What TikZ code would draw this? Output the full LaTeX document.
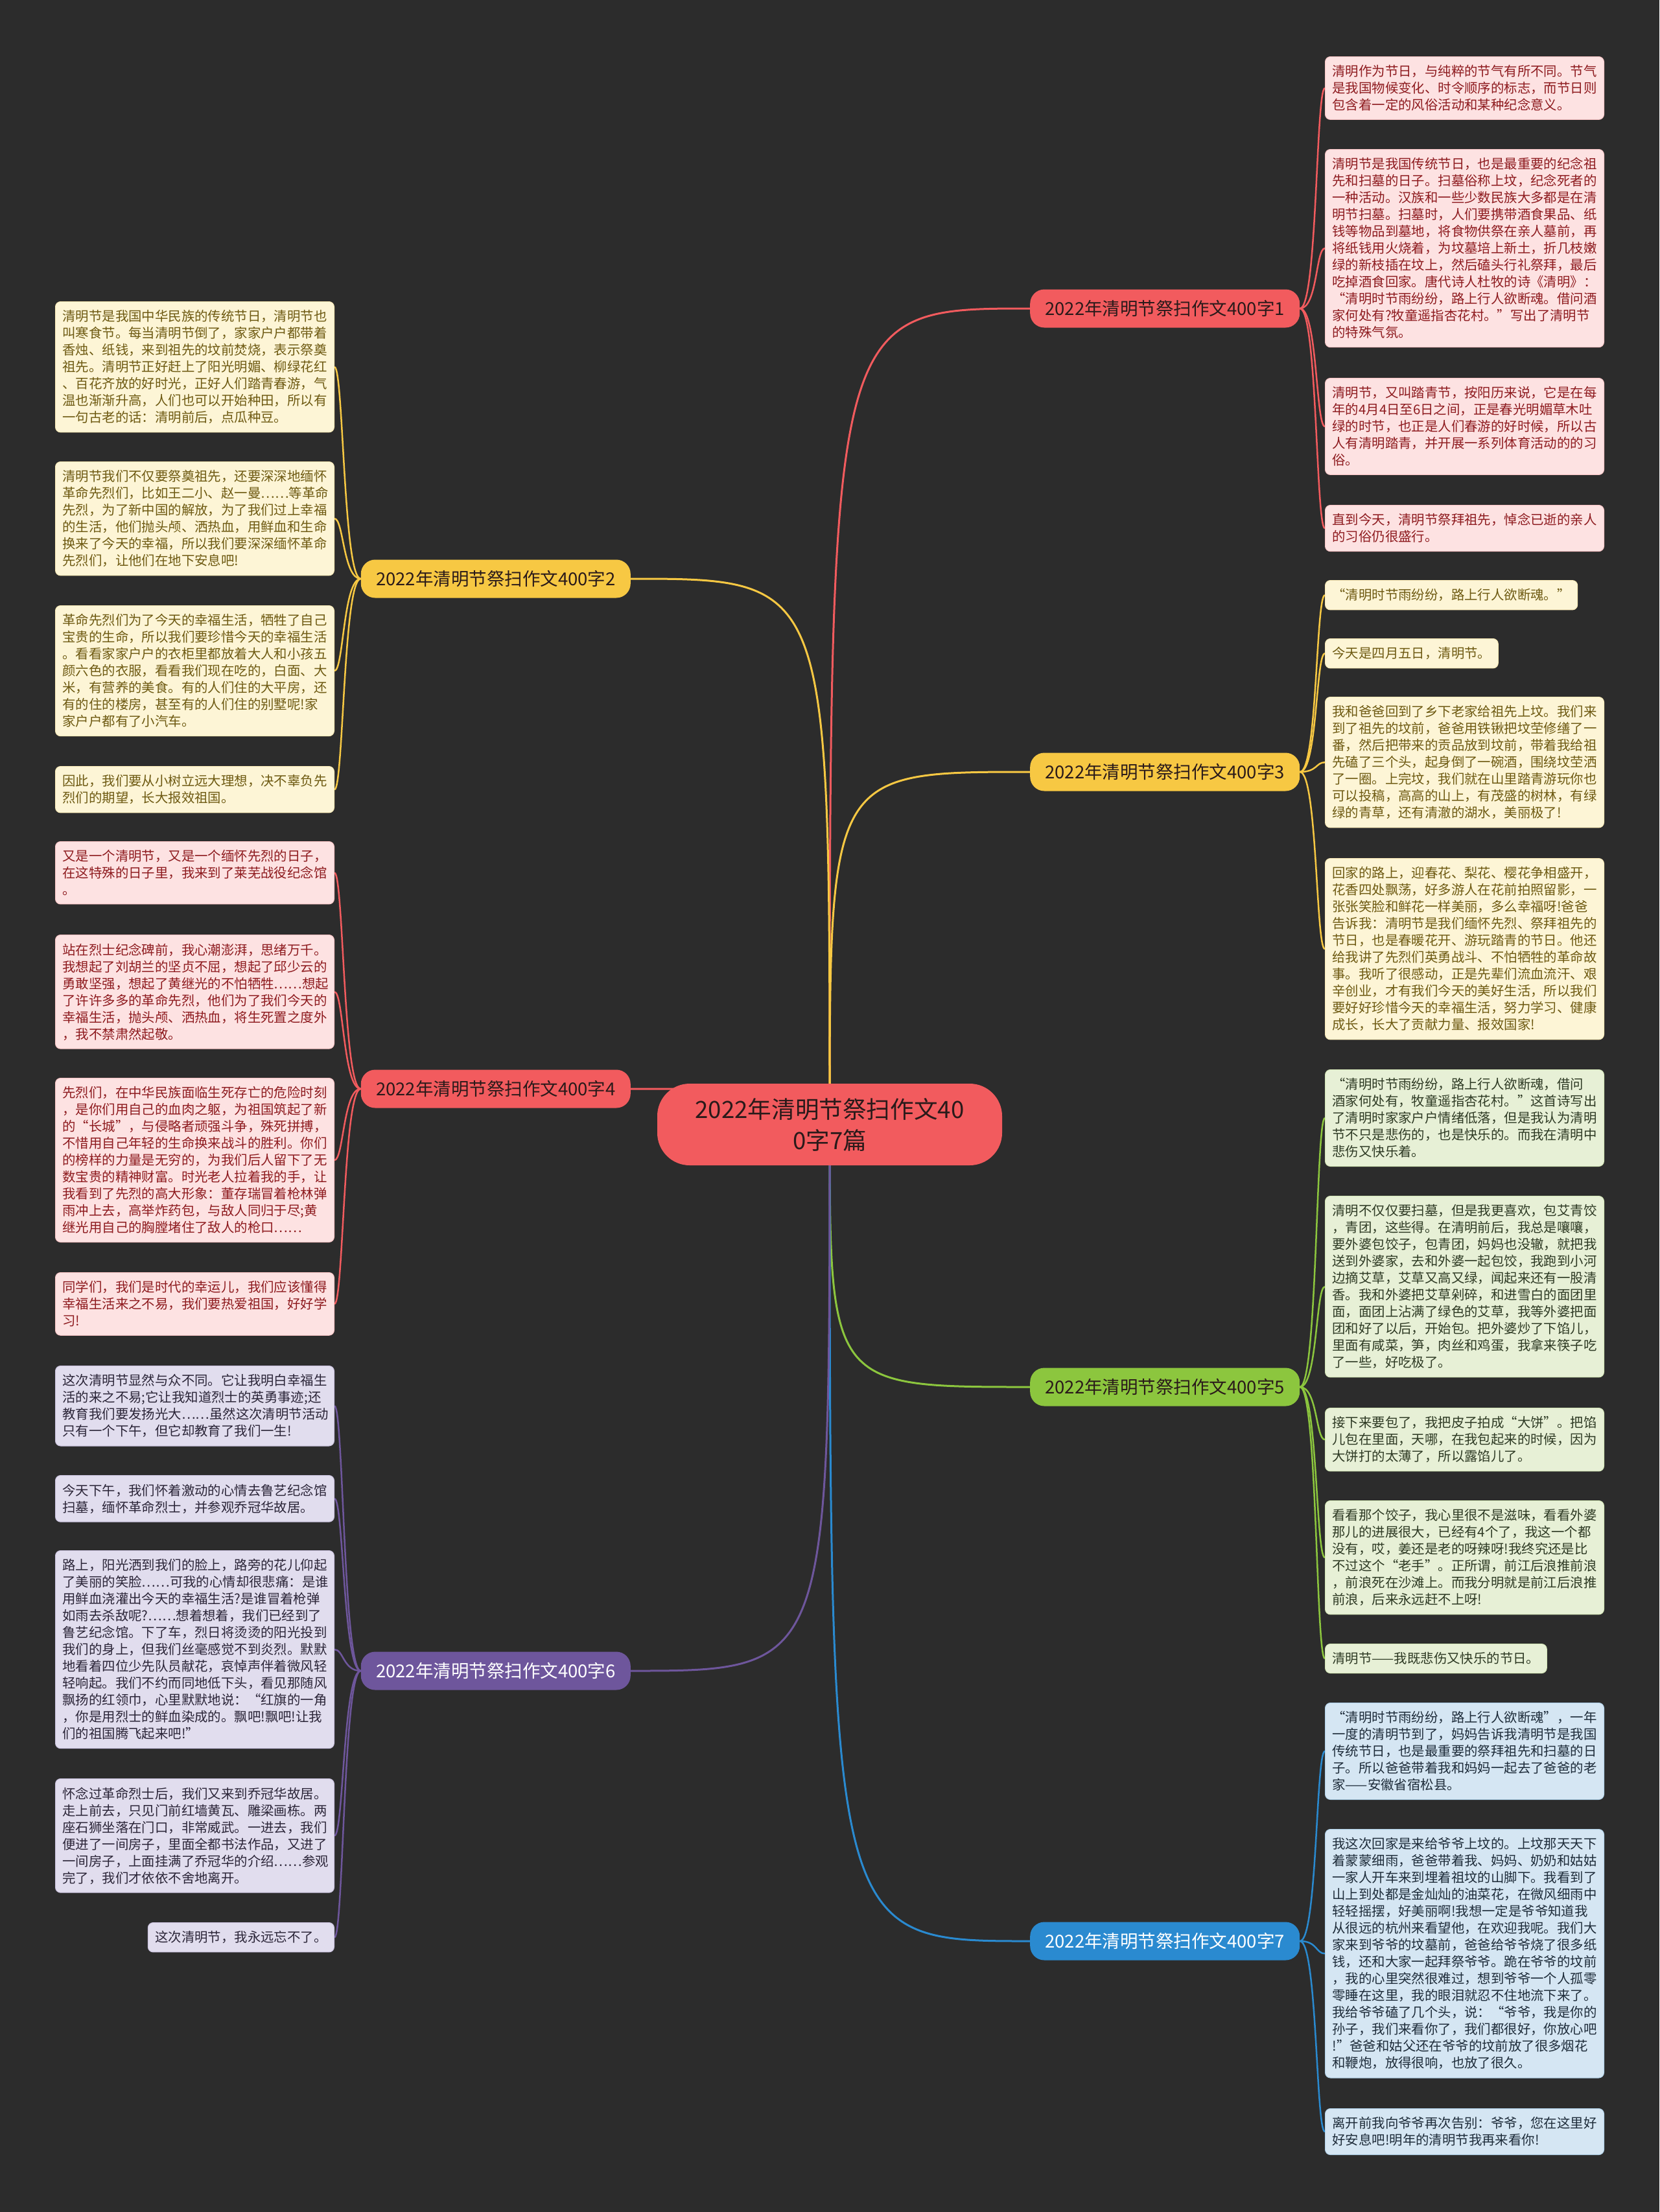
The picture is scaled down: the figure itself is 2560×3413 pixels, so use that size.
\documentclass[tikz,border=0pt]{standalone}
\usepackage{fontspec}
\setmainfont{Noto Sans CJK SC}
\pgfdeclarelayer{bglayer}
\pgfdeclarelayer{linelayer}
\pgfsetlayers{bglayer,linelayer,main}
\definecolor{bgc}{HTML}{2C2C2C}
\definecolor{redM}{HTML}{F25B5E}
\definecolor{redL}{HTML}{FDE2E2}
\definecolor{redT}{HTML}{8E1B1F}
\definecolor{yelM}{HTML}{F7C843}
\definecolor{yelL}{HTML}{FDF5D6}
\definecolor{yelT}{HTML}{6E5A12}
\definecolor{grnM}{HTML}{8CC63E}
\definecolor{grnL}{HTML}{E7F0D6}
\definecolor{grnT}{HTML}{2E3A24}
\definecolor{bluM}{HTML}{2A8AD0}
\definecolor{bluL}{HTML}{D5E6F3}
\definecolor{bluT}{HTML}{1E2C3A}
\definecolor{purM}{HTML}{6E569C}
\definecolor{purL}{HTML}{E1DDEE}
\definecolor{purT}{HTML}{2B2538}
\definecolor{darkT}{HTML}{2A1A1A}
\tikzset{
  leafbox/.style={inner xsep=11pt, inner ysep=13pt, rounded corners=8pt, align=left,
    font=\fontsize{20.4}{26}\selectfont, line width=1pt},
  wide/.style={text width=408pt},
  rleaf/.style={leafbox, anchor=north west},
  lleaf/.style={leafbox, anchor=north east},
  redleaf/.style={fill=redL, draw=redL!80!redM, text=redT},
  yelleaf/.style={fill=yelL, draw=yelL!80!yelM, text=yelT},
  grnleaf/.style={fill=grnL, draw=grnL!80!grnM, text=grnT},
  bluleaf/.style={fill=bluL, draw=bluL!80!bluM, text=bluT},
  purleaf/.style={fill=purL, draw=purL!80!purM, text=purT},
  branch/.style={minimum width=416pt, minimum height=59pt, rounded corners=22pt,
    inner sep=0pt, font=\fontsize{27.5}{33}\selectfont},
  rbranch/.style={branch, anchor=west},
  lbranch/.style={branch, anchor=east},
  trunk/.style={line width=3pt},
  twig/.style={line width=2.5pt},
}
\begin{document}
\begin{tikzpicture}[x=1pt, y=-1pt]
\useasboundingbox (0,0) rectangle (2560,3413);
\begin{pgfonlayer}{bglayer}
\fill[bgc] (0,0) rectangle (2560,3413);
\end{pgfonlayer}

% centre
\node[fill=redM, text=darkT, minimum width=532pt, minimum height=126pt, rounded corners=50pt,
  align=center, font=\fontsize{36.6}{48}\selectfont] (ctr) at (1280,1735)
  {2022年清明节祭扫作文40\\0字7篇};

% branches
\node[rbranch, fill=redM, text=darkT] (r1) at (1589,476) {2022年清明节祭扫作文400字1};
\node[rbranch, fill=yelM, text=darkT] (r3) at (1589,1191) {2022年清明节祭扫作文400字3};
\node[rbranch, fill=grnM, text=darkT] (r5) at (1589,2140) {2022年清明节祭扫作文400字5};
\node[rbranch, fill=bluM, text=white] (r7) at (1589,2995) {2022年清明节祭扫作文400字7};
\node[lbranch, fill=yelM, text=darkT] (l2) at (973,893) {2022年清明节祭扫作文400字2};
\node[lbranch, fill=redM, text=darkT] (l4) at (973,1680) {2022年清明节祭扫作文400字4};
\node[lbranch, fill=purM, text=white] (l6) at (973,2578) {2022年清明节祭扫作文400字6};

% ---- branch 1 leaves
\node[rleaf, wide, redleaf] (r1a) at (2044,87) {清明作为节日，与纯粹的节气有所不同。节气\\是我国物候变化、时令顺序的标志，而节日则\\包含着一定的风俗活动和某种纪念意义。};
\node[rleaf, wide, redleaf] (r1b) at (2044,230) {清明节是我国传统节日，也是最重要的纪念祖\\先和扫墓的日子。扫墓俗称上坟，纪念死者的\\一种活动。汉族和一些少数民族大多都是在清\\明节扫墓。扫墓时，人们要携带酒食果品、纸\\钱等物品到墓地，将食物供祭在亲人墓前，再\\将纸钱用火烧着，为坟墓培上新土，折几枝嫩\\绿的新枝插在坟上，然后磕头行礼祭拜，最后\\吃掉酒食回家。唐代诗人杜牧的诗《清明》：\\“清明时节雨纷纷，路上行人欲断魂。借问酒\\家何处有?牧童遥指杏花村。”写出了清明节\\的特殊气氛。};
\node[rleaf, wide, redleaf] (r1c) at (2044,583) {清明节，又叫踏青节，按阳历来说，它是在每\\年的4月4日至6日之间，正是春光明媚草木吐\\绿的时节，也正是人们春游的好时候，所以古\\人有清明踏青，并开展一系列体育活动的的习\\俗。};
\node[rleaf, wide, redleaf] (r1d) at (2044,779) {直到今天，清明节祭拜祖先，悼念已逝的亲人\\的习俗仍很盛行。};

% ---- branch 3 leaves
\node[rleaf, yelleaf] (r3a) at (2044,895) {“清明时节雨纷纷，路上行人欲断魂。”};
\node[rleaf, yelleaf] (r3b) at (2044,985) {今天是四月五日，清明节。};
\node[rleaf, wide, yelleaf] (r3c) at (2044,1075) {我和爸爸回到了乡下老家给祖先上坟。我们来\\到了祖先的坟前，爸爸用铁锹把坟茔修缮了一\\番，然后把带来的贡品放到坟前，带着我给祖\\先磕了三个头，起身倒了一碗酒，围绕坟茔洒\\了一圈。上完坟，我们就在山里踏青游玩你也\\可以投稿，高高的山上，有茂盛的树林，有绿\\绿的青草，还有清澈的湖水，美丽极了!};
\node[rleaf, wide, yelleaf] (r3d) at (2044,1324) {回家的路上，迎春花、梨花、樱花争相盛开，\\花香四处飘荡，好多游人在花前拍照留影，一\\张张笑脸和鲜花一样美丽，多么幸福呀!爸爸\\告诉我：清明节是我们缅怀先烈、祭拜祖先的\\节日，也是春暖花开、游玩踏青的节日。他还\\给我讲了先烈们英勇战斗、不怕牺牲的革命故\\事。我听了很感动，正是先辈们流血流汗、艰\\辛创业，才有我们今天的美好生活，所以我们\\要好好珍惜今天的幸福生活，努力学习、健康\\成长，长大了贡献力量、报效国家!};

% ---- branch 5 leaves
\node[rleaf, wide, grnleaf] (r5a) at (2044,1650) {“清明时节雨纷纷，路上行人欲断魂，借问\\酒家何处有，牧童遥指杏花村。”这首诗写出\\了清明时家家户户情绪低落，但是我认为清明\\节不只是悲伤的，也是快乐的。而我在清明中\\悲伤又快乐着。};
\node[rleaf, wide, grnleaf] (r5b) at (2044,1845) {清明不仅仅要扫墓，但是我更喜欢，包艾青饺\\，青团，这些得。在清明前后，我总是嚷嚷，\\要外婆包饺子，包青团，妈妈也没辙，就把我\\送到外婆家，去和外婆一起包饺，我跑到小河\\边摘艾草，艾草又高又绿，闻起来还有一股清\\香。我和外婆把艾草剁碎，和进雪白的面团里\\面，面团上沾满了绿色的艾草，我等外婆把面\\团和好了以后，开始包。把外婆炒了下馅儿，\\里面有咸菜，笋，肉丝和鸡蛋，我拿来筷子吃\\了一些，好吃极了。};
\node[rleaf, wide, grnleaf] (r5c) at (2044,2172) {接下来要包了，我把皮子拍成“大饼”。把馅\\儿包在里面，天哪，在我包起来的时候，因为\\大饼打的太薄了，所以露馅儿了。};
\node[rleaf, wide, grnleaf] (r5d) at (2044,2315) {看看那个饺子，我心里很不是滋味，看看外婆\\那儿的进展很大，已经有4个了，我这一个都\\没有，哎，姜还是老的呀辣呀!我终究还是比\\不过这个“老手”。正所谓，前江后浪推前浪\\，前浪死在沙滩上。而我分明就是前江后浪推\\前浪，后来永远赶不上呀!};
\node[rleaf, grnleaf] (r5e) at (2044,2536) {清明节——我既悲伤又快乐的节日。};

% ---- branch 7 leaves
\node[rleaf, wide, bluleaf] (r7a) at (2044,2627) {“清明时节雨纷纷，路上行人欲断魂”，一年\\一度的清明节到了，妈妈告诉我清明节是我国\\传统节日，也是最重要的祭拜祖先和扫墓的日\\子。所以爸爸带着我和妈妈一起去了爸爸的老\\家——安徽省宿松县。};
\node[rleaf, wide, bluleaf] (r7b) at (2044,2822) {我这次回家是来给爷爷上坟的。上坟那天天下\\着蒙蒙细雨，爸爸带着我、妈妈、奶奶和姑姑\\一家人开车来到埋着祖坟的山脚下。我看到了\\山上到处都是金灿灿的油菜花，在微风细雨中\\轻轻摇摆，好美丽啊!我想一定是爷爷知道我\\从很远的杭州来看望他，在欢迎我呢。我们大\\家来到爷爷的坟墓前，爸爸给爷爷烧了很多纸\\钱，还和大家一起拜祭爷爷。跪在爷爷的坟前\\，我的心里突然很难过，想到爷爷一个人孤零\\零睡在这里，我的眼泪就忍不住地流下来了。\\我给爷爷磕了几个头，说：“爷爷，我是你的\\孙子，我们来看你了，我们都很好，你放心吧\\!”爸爸和姑父还在爷爷的坟前放了很多烟花\\和鞭炮，放得很响，也放了很久。};
\node[rleaf, wide, bluleaf] (r7c) at (2044,3253) {离开前我向爷爷再次告别：爷爷，您在这里好\\好安息吧!明年的清明节我再来看你!};

% ---- branch 2 leaves
\node[lleaf, wide, yelleaf] (l2a) at (516,465) {清明节是我国中华民族的传统节日，清明节也\\叫寒食节。每当清明节倒了，家家户户都带着\\香烛、纸钱，来到祖先的坟前焚烧，表示祭奠\\祖先。清明节正好赶上了阳光明媚、柳绿花红\\、百花齐放的好时光，正好人们踏青春游，气\\温也渐渐升高，人们也可以开始种田，所以有\\一句古老的话：清明前后，点瓜种豆。};
\node[lleaf, wide, yelleaf] (l2b) at (516,712) {清明节我们不仅要祭奠祖先，还要深深地缅怀\\革命先烈们，比如王二小、赵一曼……等革命\\先烈，为了新中国的解放，为了我们过上幸福\\的生活，他们抛头颅、洒热血，用鲜血和生命\\换来了今天的幸福，所以我们要深深缅怀革命\\先烈们，让他们在地下安息吧!};
\node[lleaf, wide, yelleaf] (l2c) at (516,934) {革命先烈们为了今天的幸福生活，牺牲了自己\\宝贵的生命，所以我们要珍惜今天的幸福生活\\。看看家家户户的衣柜里都放着大人和小孩五\\颜六色的衣服，看看我们现在吃的，白面、大\\米，有营养的美食。有的人们住的大平房，还\\有的住的楼房，甚至有的人们住的别墅呢!家\\家户户都有了小汽车。};
\node[lleaf, wide, yelleaf] (l2d) at (516,1182) {因此，我们要从小树立远大理想，决不辜负先\\烈们的期望，长大报效祖国。};

% ---- branch 4 leaves
\node[lleaf, wide, redleaf] (l4a) at (516,1298) {又是一个清明节，又是一个缅怀先烈的日子，\\在这特殊的日子里，我来到了莱芜战役纪念馆\\。};
\node[lleaf, wide, redleaf] (l4b) at (516,1442) {站在烈士纪念碑前，我心潮澎湃，思绪万千。\\我想起了刘胡兰的坚贞不屈，想起了邱少云的\\勇敢坚强，想起了黄继光的不怕牺牲……想起\\了许许多多的革命先烈，他们为了我们今天的\\幸福生活，抛头颅、洒热血，将生死置之度外\\，我不禁肃然起敬。};
\node[lleaf, wide, redleaf] (l4c) at (516,1663) {先烈们，在中华民族面临生死存亡的危险时刻\\，是你们用自己的血肉之躯，为祖国筑起了新\\的“长城”，与侵略者顽强斗争，殊死拼搏，\\不惜用自己年轻的生命换来战斗的胜利。你们\\的榜样的力量是无穷的，为我们后人留下了无\\数宝贵的精神财富。时光老人拉着我的手，让\\我看到了先烈的高大形象：董存瑞冒着枪林弹\\雨冲上去，高举炸药包，与敌人同归于尽;黄\\继光用自己的胸膛堵住了敌人的枪口……};
\node[lleaf, wide, redleaf] (l4d) at (516,1963) {同学们，我们是时代的幸运儿，我们应该懂得\\幸福生活来之不易，我们要热爱祖国，好好学\\习!};

% ---- branch 6 leaves
\node[lleaf, wide, purleaf] (l6a) at (516,2107) {这次清明节显然与众不同。它让我明白幸福生\\活的来之不易;它让我知道烈士的英勇事迹;还\\教育我们要发扬光大……虽然这次清明节活动\\只有一个下午，但它却教育了我们一生!};
\node[lleaf, wide, purleaf] (l6b) at (516,2276) {今天下午，我们怀着激动的心情去鲁艺纪念馆\\扫墓，缅怀革命烈士，并参观乔冠华故居。};
\node[lleaf, wide, purleaf] (l6c) at (516,2392) {路上，阳光洒到我们的脸上，路旁的花儿仰起\\了美丽的笑脸……可我的心情却很悲痛：是谁\\用鲜血浇灌出今天的幸福生活?是谁冒着枪弹\\如雨去杀敌呢?……想着想着，我们已经到了\\鲁艺纪念馆。下了车，烈日将烫烫的阳光投到\\我们的身上，但我们丝毫感觉不到炎烈。默默\\地看着四位少先队员献花，哀悼声伴着微风轻\\轻响起。我们不约而同地低下头，看见那随风\\飘扬的红领巾，心里默默地说：“红旗的一角\\，你是用烈士的鲜血染成的。飘吧!飘吧!让我\\们的祖国腾飞起来吧!”};
\node[lleaf, wide, purleaf] (l6d) at (516,2744) {怀念过革命烈士后，我们又来到乔冠华故居。\\走上前去，只见门前红墙黄瓦、雕梁画栋。两\\座石狮坐落在门口，非常威武。一进去，我们\\便进了一间房子，里面全都书法作品，又进了\\一间房子，上面挂满了乔冠华的介绍……参观\\完了，我们才依依不舍地离开。};
\node[lleaf, purleaf] (l6e) at (516,2966) {这次清明节，我永远忘不了。};

% ---- connectors
\begin{pgfonlayer}{linelayer}
\draw[trunk, redM] (ctr.center) .. controls (ctr.center |- r1.west) .. (r1.west);
\draw[trunk, yelM] (ctr.center) .. controls (ctr.center |- r3.west) .. (r3.west);
\draw[trunk, grnM] (ctr.center) .. controls (ctr.center |- r5.west) .. (r5.west);
\draw[trunk, bluM] (ctr.center) .. controls (ctr.center |- r7.west) .. (r7.west);
\draw[trunk, yelM] (ctr.center) .. controls (ctr.center |- l2.east) .. (l2.east);
\draw[trunk, redM] (ctr.center) .. controls (ctr.center |- l4.east) .. (l4.east);
\draw[trunk, purM] (ctr.center) .. controls (ctr.center |- l6.east) .. (l6.east);
\foreach \n in {r1a,r1b,r1c,r1d}
  \draw[twig, redM] (r1.east) .. controls ([xshift=27pt]r1.east) and ([xshift=-14pt]\n.west) .. (\n.west);
\foreach \n in {r3a,r3b,r3c,r3d}
  \draw[twig, yelM] (r3.east) .. controls ([xshift=27pt]r3.east) and ([xshift=-14pt]\n.west) .. (\n.west);
\foreach \n in {r5a,r5b,r5c,r5d,r5e}
  \draw[twig, grnM] (r5.east) .. controls ([xshift=27pt]r5.east) and ([xshift=-14pt]\n.west) .. (\n.west);
\foreach \n in {r7a,r7b,r7c}
  \draw[twig, bluM] (r7.east) .. controls ([xshift=27pt]r7.east) and ([xshift=-14pt]\n.west) .. (\n.west);
\foreach \n in {l2a,l2b,l2c,l2d}
  \draw[twig, yelM] (l2.west) .. controls ([xshift=-27pt]l2.west) and ([xshift=14pt]\n.east) .. (\n.east);
\foreach \n in {l4a,l4b,l4c,l4d}
  \draw[twig, redM] (l4.west) .. controls ([xshift=-27pt]l4.west) and ([xshift=14pt]\n.east) .. (\n.east);
\foreach \n in {l6a,l6b,l6c,l6d,l6e}
  \draw[twig, purM] (l6.west) .. controls ([xshift=-27pt]l6.west) and ([xshift=14pt]\n.east) .. (\n.east);
\end{pgfonlayer}
\end{tikzpicture}
\end{document}
